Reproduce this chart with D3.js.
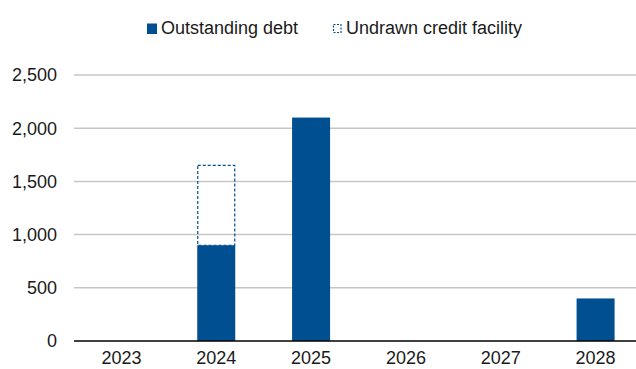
<!DOCTYPE html>
<html><head><meta charset="utf-8">
<script src="https://cdn.jsdelivr.net/npm/d3@7"></script>
<style>body{margin:0;background:#fff}svg{display:block}text{font-family:"Liberation Sans",Arial,sans-serif}</style>
</head><body>
<svg id="c" width="636" height="369"></svg>
<script>
const categories = ["2023","2024","2025","2026","2027","2028"];
const outstandingDebt = [0, 900, 2100, 0, 0, 400];
const undrawnCredit = [0, 750, 0, 0, 0, 0];
const yTicks = [0, 500, 1000, 1500, 2000, 2500];
const seriesNames = ["Outstanding debt", "Undrawn credit facility"];

const svg = d3.select("#c");
const color = "#004f91";
const fs = 18;
const x = d3.scaleBand().domain(categories).range([74, 643]).paddingInner(0.6).paddingOuter(0.3);
const y = d3.scaleLinear().domain([0, 2500]).range([341, 75]);

// gridlines
svg.append("g").selectAll("line").data(yTicks.filter(d => d > 0)).join("line")
  .attr("x1", 74).attr("x2", 636).attr("y1", d => y(d)).attr("y2", d => y(d))
  .attr("stroke", "#c6c6c6").attr("stroke-width", 1.5);

// y labels
svg.append("g").selectAll("text").data(yTicks).join("text")
  .attr("x", 57).attr("y", d => y(d)).attr("dy", "0.35em").attr("text-anchor", "end")
  .attr("font-size", fs).attr("fill", "#1a1a1a")
  .text(d => d3.format(",")(d));

// bars
const bw = 38;
svg.append("g").selectAll("rect").data(categories.map((c,i)=>({c,v:outstandingDebt[i]})).filter(d=>d.v>0)).join("rect")
  .attr("x", d => x(d.c) + x.bandwidth()/2 - bw/2).attr("width", bw)
  .attr("y", d => y(d.v)).attr("height", d => y(0) - y(d.v)).attr("fill", color);

svg.append("g").selectAll("rect").data(categories.map((c,i)=>({c,b:outstandingDebt[i],v:undrawnCredit[i]})).filter(d=>d.v>0)).join("rect")
  .attr("x", d => x(d.c) + x.bandwidth()/2 - bw/2 + 0.5).attr("width", bw - 1)
  .attr("y", d => y(d.b + d.v)).attr("height", d => y(d.b) - y(d.b + d.v))
  .attr("fill", "none").attr("stroke", color).attr("stroke-width", 1.2).attr("stroke-dasharray", "3,2");

// baseline
svg.append("line").attr("x1", 74).attr("x2", 636).attr("y1", y(0)).attr("y2", y(0))
  .attr("stroke", "#000").attr("stroke-width", 1.5);

// x labels
svg.append("g").selectAll("text").data(categories).join("text")
  .attr("x", d => x(d) + x.bandwidth()/2).attr("y", 364).attr("text-anchor", "middle")
  .attr("font-size", fs).attr("fill", "#1a1a1a").text(d => d);

// legend
const lg = svg.append("g");
lg.append("rect").attr("x", 147).attr("y", 23.5).attr("width", 10).attr("height", 10.5).attr("fill", color);
lg.append("text").attr("x", 161).attr("y", 34).attr("font-size", fs).attr("fill", "#1a1a1a").text(seriesNames[0]);
lg.append("rect").attr("x", 333.5).attr("y", 24.5).attr("width", 7.5).attr("height", 8)
  .attr("fill", "none").attr("stroke", color).attr("stroke-width", 1.2).attr("stroke-dasharray", "2,1.5");
lg.append("text").attr("x", 346).attr("y", 34).attr("font-size", fs).attr("fill", "#1a1a1a").text(seriesNames[1]);
</script>
</body></html>
